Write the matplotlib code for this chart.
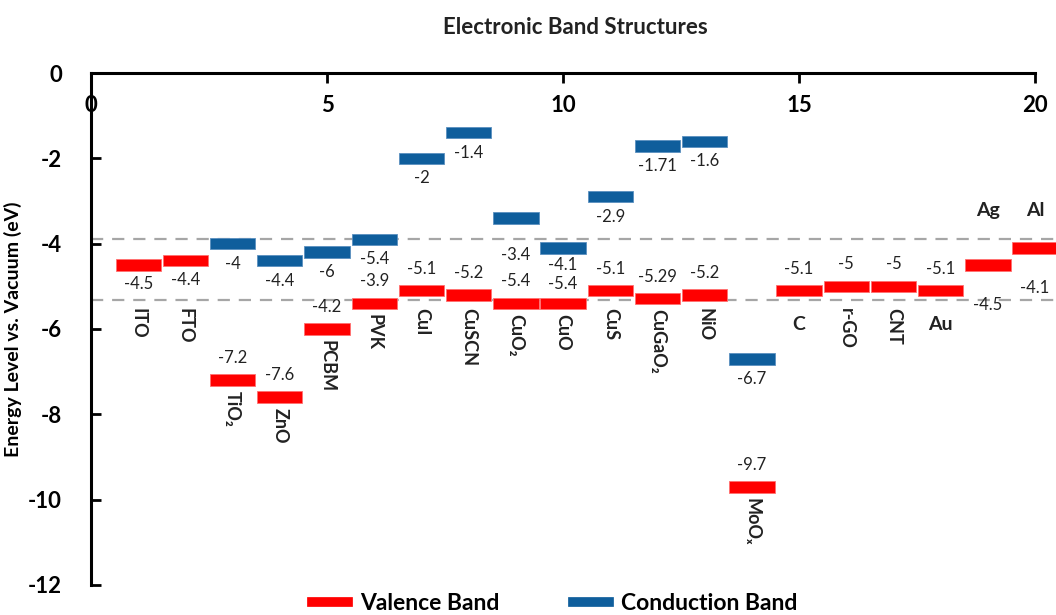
import numpy as np
import matplotlib
matplotlib.use("Agg")
import matplotlib.pyplot as plt
from matplotlib.lines import Line2D

plt.rcParams['font.family'] = ['Lato', 'DejaVu Sans']
plt.rcParams['axes.unicode_minus'] = False

materials = ['ITO', 'FTO', 'TiO₂', 'ZnO', 'PCBM', 'PVK', 'CuI', 'CuSCN', 'CuO₂', 'CuO',
             'CuS', 'CuGaO₂', 'NiO', 'MoOₓ', 'C', 'r-GO', 'CNT', 'Au', 'Ag', 'Al']
nan = np.nan
cb = [nan, nan, -4, -4.4, -4.2, -3.9, -2, -1.4, -3.4, -4.1,
      -2.9, -1.71, -1.6, -6.7, nan, nan, nan, nan, nan, nan]
vb = [-4.5, -4.4, -7.2, -7.6, -6, -5.4, -5.1, -5.2, -5.4, -5.4,
      -5.1, -5.29, -5.2, -9.7, -5.1, -5, -5, -5.1, -4.5, -4.1]
# text printed next to each bar, as it appears in the figure
cb_text = [None, None, '-4', '-4.4', '-6', '-5.4', '-2', '-1.4', '-3.4', '-4.1',
           '-2.9', '-1.71', '-1.6', '-6.7', None, None, None, None, None, None]
vb_text = ['-4.5', '-4.4', '-7.2', '-7.6', '-4.2', '-3.9', '-5.1', '-5.2', '-5.4', '-5.4',
           '-5.1', '-5.29', '-5.2', '-9.7', '-5.1', '-5', '-5', '-5.1', '-4.5', '-4.1']
ref_levels = [-3.9, -5.33]

red = '#FF0000'
blue = '#0F5E9C'
x = np.arange(1, len(materials) + 1)

fig = plt.figure(figsize=(10.56, 6.15), dpi=100)
ax = fig.add_axes([0.0862, 0.0488, 0.8940, 0.8325])

for lvl in ref_levels:
    ax.plot([0, 20.6], [lvl, lvl], color='#A6A6A6', lw=1.6, ls=(0, (5.5, 4)),
            clip_on=False, zorder=1)

bw = 0.96
bh = 0.27
ax.barh(vb, bw, left=x - bw / 2, height=bh, color=red, edgecolor='#FF7070',
        lw=0.6, clip_on=False, zorder=3)
cbm = ~np.isnan(cb)
ax.barh(np.array(cb)[cbm], bw, left=x[cbm] - bw / 2, height=bh, color=blue,
        edgecolor='#5A8FBF', lw=0.6, clip_on=False, zorder=3)

lab_kw = dict(textcoords='offset pixels', ha='center', va='center', fontsize=12,
              color='#222222', annotation_clip=False)
for i, name in enumerate(materials):
    xi = x[i]
    tight = not np.isnan(cb[i]) and (cb[i] - vb[i]) < 1.4
    if cb_text[i] is not None:
        off = -17 if tight else -20
        # keep the label clear of the dashed reference line just under the bar
        if any(0.3 < cb[i] - lvl < 0.65 for lvl in ref_levels):
            off -= 17
        ax.annotate(cb_text[i], (xi, cb[i]), xytext=(0, off), **lab_kw)
    metal_low = np.isnan(cb[i]) and vb[i] > -4.8
    if metal_low:
        off = -40 if len(name) <= 2 else -19
    else:
        off = 19 if tight else 22
    ax.annotate(vb_text[i], (xi, vb[i]), xytext=(0, off), **lab_kw)

    if len(name) <= 2:
        ny = -3.22 if metal_low else -5.9
        ax.text(xi, ny, name, ha='center', va='center', fontsize=14,
                fontweight='bold', color='#222222')
    else:
        ny = min(-5.5, vb[i] - 0.25)
        ax.text(xi, ny, name, ha='center', va='top', rotation=-90, fontsize=13,
                fontweight='bold', color='#222222')

ax.set_xlim(0, 20)
ax.set_ylim(-12, 0)
ax.set_xticks([0, 5, 10, 15, 20])
ax.set_yticks(np.arange(-12, 1, 2))
ax.xaxis.tick_top()
ax.tick_params(axis='x', direction='in', length=7, width=2, pad=-31, labelsize=16)
ax.tick_params(axis='y', direction='in', length=7, width=2, pad=21, labelsize=16)
for lbl in ax.get_xticklabels() + ax.get_yticklabels():
    lbl.set_fontweight('bold')
ax.spines['right'].set_visible(False)
ax.spines['bottom'].set_visible(False)
ax.spines['top'].set_linewidth(2.2)
ax.spines['left'].set_linewidth(2.2)

ax.set_ylabel('Energy Level vs. Vacuum (eV)', fontsize=14, fontweight='bold', labelpad=4)
fig.text(0.545, 0.955, 'Electronic Band Structures', ha='center', va='center',
         fontsize=16, fontweight='bold', color='#222222')

handles = [Line2D([], [], color=red, lw=7), Line2D([], [], color=blue, lw=7)]
fig.legend(handles, ['Valence Band', 'Conduction Band'], loc='center',
           bbox_to_anchor=(0.525, 0.018), ncol=2, frameon=False,
           prop={'size': 16.5, 'weight': 'bold'}, handlelength=1.6,
           handletextpad=0.5, columnspacing=3.2)

fig.savefig('out.png', dpi=100)
